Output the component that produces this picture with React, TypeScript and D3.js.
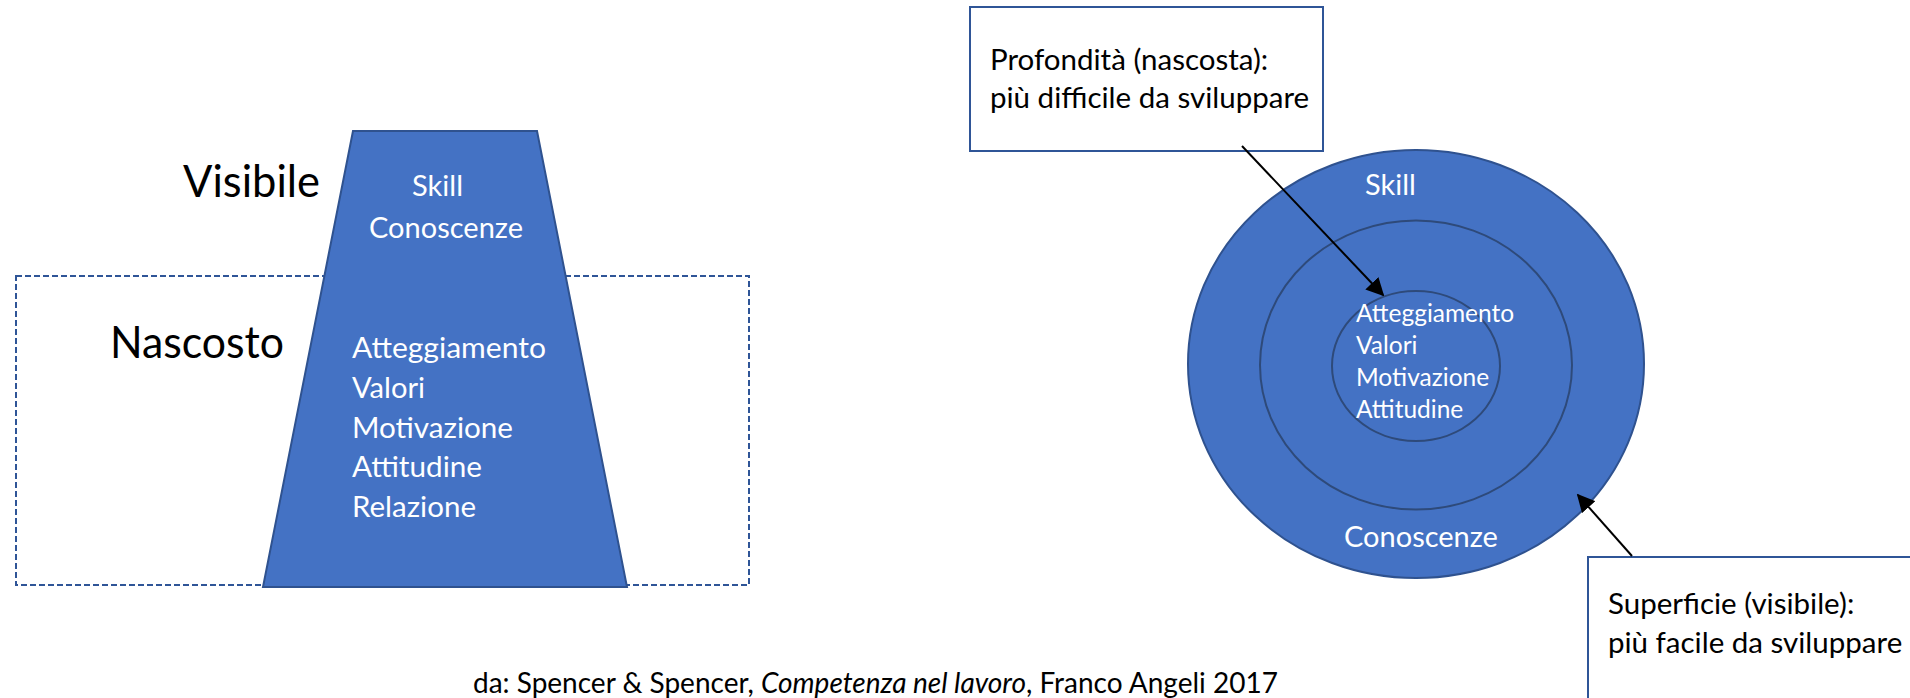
import { useEffect, useRef } from 'react';
import * as d3 from 'd3';

// labels
const levelTitles = ['Visibile', 'Nascosto'];
const visibleTraits = ['Skill', 'Conoscenze'];
const hiddenTraits = ['Atteggiamento', 'Valori', 'Motivazione', 'Attitudine', 'Relazione'];
const surfaceTraits = ['Skill', 'Conoscenze'];
const coreTraits = ['Atteggiamento', 'Valori', 'Motivazione', 'Attitudine'];
const ringLevels = [0, 1, 2]; // 0 = surface, 2 = core
const calloutDeep = ['Profondità (nascosta):', 'più difficile da sviluppare'];
const calloutSurface = ['Superficie (visibile):', 'più facile da sviluppare'];

const W = 1910;
const H = 698;
const FILL = '#4472C4';
const EDGE = '#2F528F';
const FONT = 'Lato, Carlito, Calibri, sans-serif';

function App() {
  const svgRef = useRef<SVGSVGElement>(null);

  useEffect(() => {
    document.body.style.margin = '0';
    document.body.style.overflow = 'hidden';

    const svg = d3.select(svgRef.current);
    svg.selectAll('*').remove();

    const defs = svg.append('defs');
    defs
      .append('marker')
      .attr('id', 'arrow')
      .attr('viewBox', '0 0 10 10')
      .attr('refX', 9)
      .attr('refY', 5)
      .attr('markerWidth', 9)
      .attr('markerHeight', 9)
      .attr('markerUnits', 'strokeWidth')
      .attr('orient', 'auto')
      .append('path')
      .attr('d', 'M0,0 L10,5 L0,10 Z')
      .attr('fill', '#000');

    // ---------- left: iceberg ----------
    const left = svg.append('g');

    left
      .append('rect')
      .attr('x', 16)
      .attr('y', 276)
      .attr('width', 733)
      .attr('height', 309)
      .attr('fill', 'none')
      .attr('stroke', '#2F5597')
      .attr('stroke-width', 2)
      .attr('stroke-dasharray', '6,3');

    // half width of trapezoid by height
    const yTrap = d3.scaleLinear().domain([0, 1]).range([131, 587]);
    const halfW = d3.scaleLinear().domain([0, 1]).range([92, 182]);
    const cx = 445;
    const trapPts: [number, number][] = [
      [cx - halfW(0), yTrap(0)],
      [cx + halfW(0), yTrap(0)],
      [cx + halfW(1), yTrap(1)],
      [cx - halfW(1), yTrap(1)],
    ];
    left
      .append('path')
      .attr('d', d3.line()(trapPts) + 'Z')
      .attr('fill', FILL)
      .attr('stroke', EDGE)
      .attr('stroke-width', 2);

    const titleY = [197, 358];
    const titleX = [183, 110];
    const titleLen = [137, 174];
    left
      .selectAll('text.title')
      .data(levelTitles)
      .enter()
      .append('text')
      .attr('class', 'title')
      .attr('x', (_, i) => titleX[i])
      .attr('y', (_, i) => titleY[i])
      .attr('textLength', (_, i) => titleLen[i])
      .attr('lengthAdjust', 'spacingAndGlyphs')
      .style('font-family', FONT)
      .style('font-size', '44px')
      .style('fill', '#000')
      .text(d => d);

    const visX = [412, 369];
    const visY = [196, 238];
    const visLen = [51, 154];
    left
      .selectAll('text.vis')
      .data(visibleTraits)
      .enter()
      .append('text')
      .attr('class', 'vis')
      .attr('x', (_, i) => visX[i])
      .attr('y', (_, i) => visY[i])
      .attr('textLength', (_, i) => visLen[i])
      .attr('lengthAdjust', 'spacingAndGlyphs')
      .style('font-family', FONT)
      .style('font-size', '29px')
      .style('fill', '#fff')
      .text(d => d);

    const hidLen = [194, 73, 161, 130, 124];
    const hidY = d3.scaleLinear().domain([0, hiddenTraits.length - 1]).range([358, 517]);
    left
      .selectAll('text.hid')
      .data(hiddenTraits)
      .enter()
      .append('text')
      .attr('class', 'hid')
      .attr('x', 352)
      .attr('y', (_, i) => hidY(i))
      .attr('textLength', (_, i) => hidLen[i])
      .attr('lengthAdjust', 'spacingAndGlyphs')
      .style('font-family', FONT)
      .style('font-size', '29px')
      .style('fill', '#fff')
      .text(d => d);

    // ---------- right: concentric rings ----------
    const right = svg.append('g');
    const ocx = 1416;
    const ocy = 364;
    const rx = d3.scaleLinear().domain([0, 2]).range([228, 84]);
    const ry = d3.scaleLinear().domain([0, 2]).range([214, 75]);
    const cyScale = d3.scaleLinear().domain([0, 2]).range([ocy, 366]);

    right
      .selectAll('ellipse')
      .data(ringLevels)
      .enter()
      .append('ellipse')
      .attr('cx', ocx)
      .attr('cy', d => cyScale(d))
      .attr('rx', d => rx(d))
      .attr('ry', d => ry(d))
      .attr('fill', FILL)
      .attr('stroke', d => (d === 0 ? EDGE : '#2E4A7A'))
      .attr('stroke-width', 2);

    const surfX = [1365, 1344];
    const surfY = [195, 547];
    right
      .selectAll('text.surf')
      .data(surfaceTraits)
      .enter()
      .append('text')
      .attr('class', 'surf')
      .attr('x', (_, i) => surfX[i])
      .attr('y', (_, i) => surfY[i])
      .style('font-family', FONT)
      .style('font-size', '29px')
      .style('fill', '#fff')
      .text(d => d);

    const coreY = d3.scaleLinear().domain([0, coreTraits.length - 1]).range([322, 418]);
    right
      .selectAll('text.core')
      .data(coreTraits)
      .enter()
      .append('text')
      .attr('class', 'core')
      .attr('x', 1356)
      .attr('y', (_, i) => coreY(i))
      .style('font-family', FONT)
      .style('font-size', '24.5px')
      .style('fill', '#fff')
      .text(d => d);

    // callout boxes
    const drawCallout = (lines: string[], x: number, y: number, w: number, h: number, tx: number, ty: number[]) => {
      const g = right.append('g');
      g.append('rect')
        .attr('x', x)
        .attr('y', y)
        .attr('width', w)
        .attr('height', h)
        .attr('fill', '#fff')
        .attr('stroke', '#2F5597')
        .attr('stroke-width', 2);
      g.selectAll('text')
        .data(lines)
        .enter()
        .append('text')
        .attr('x', tx)
        .attr('y', (_, i) => ty[i])
        .style('font-family', FONT)
        .style('font-size', '29.5px')
        .style('fill', '#000')
        .text(d => d);
    };

    drawCallout(calloutDeep, 970, 7, 353, 144, 990, [70, 108]);
    drawCallout(calloutSurface, 1588, 557, 340, 160, 1608, [614, 653]);

    const arrows = [
      { from: [1242, 146], to: [1383, 295] },
      { from: [1632, 556], to: [1578, 495] },
    ];
    right
      .selectAll('line.arrow')
      .data(arrows)
      .enter()
      .append('line')
      .attr('class', 'arrow')
      .attr('x1', d => d.from[0])
      .attr('y1', d => d.from[1])
      .attr('x2', d => d.to[0])
      .attr('y2', d => d.to[1])
      .attr('stroke', '#000')
      .attr('stroke-width', 2)
      .attr('marker-end', 'url(#arrow)');

    // source note
    const note = svg
      .append('text')
      .attr('x', 473)
      .attr('y', 693)
      .style('font-family', FONT)
      .style('font-size', '28px')
      .style('fill', '#000');
    note.append('tspan').text('da: Spencer & Spencer, ');
    note.append('tspan').style('font-style', 'italic').text('Competenza nel lavoro');
    note.append('tspan').text(', Franco Angeli 2017');
  }, []);

  return <svg ref={svgRef} width={W} height={H} style={{ display: 'block', background: '#fff' }} />;
}

export default App;
